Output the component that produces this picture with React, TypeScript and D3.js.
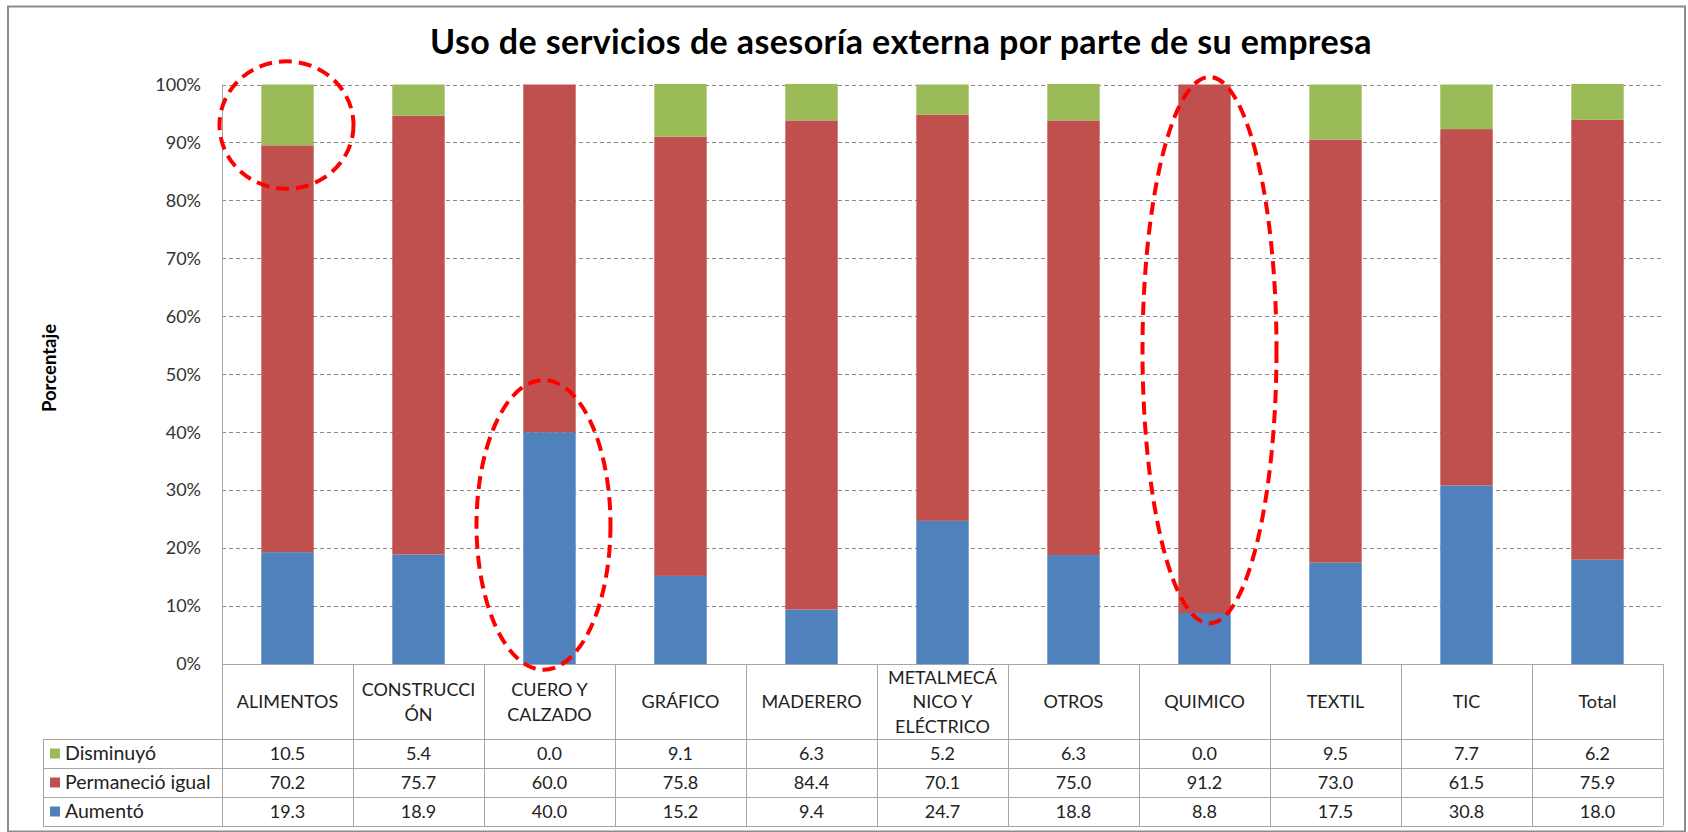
import React from 'react';
import * as d3 from 'd3';

// categories shown in the table header (line breaks as in the original)
const categories = [
  'ALIMENTOS',
  'CONSTRUCCI\nÓN',
  'CUERO Y\nCALZADO',
  'GRÁFICO',
  'MADERERO',
  'METALMECÁ\nNICO Y\nELÉCTRICO',
  'OTROS',
  'QUIMICO',
  'TEXTIL',
  'TIC',
  'Total',
];

const disminuyo = [10.5, 5.4, 0.0, 9.1, 6.3, 5.2, 6.3, 0.0, 9.5, 7.7, 6.2];
const permanecio = [70.2, 75.7, 60.0, 75.8, 84.4, 70.1, 75.0, 91.2, 73.0, 61.5, 75.9];
const aumento = [19.3, 18.9, 40.0, 15.2, 9.4, 24.7, 18.8, 8.8, 17.5, 30.8, 18.0];

const seriesNames = ['Aumentó', 'Permaneció igual', 'Disminuyó'];
const seriesColors = ['#4F81BD', '#C0504D', '#9BBB59'];
const yTicks = [0, 0.1, 0.2, 0.3, 0.4, 0.5, 0.6, 0.7, 0.8, 0.9, 1];

// red dashed highlight ellipses: category index, low / high value
const highlights = [
  { idx: 0, lo: 0.82, hi: 1.04, dx: -1 },
  { idx: 2, lo: -0.01, hi: 0.49, dx: -6 },
  { idx: 7, lo: 0.07, hi: 1.013, dx: 5 },
];

const W = 1688;
const H = 832;
const FONT = 'Lato, "Open Sans", sans-serif';

export default function App() {
  const left = 222;
  const right = 1663;
  const top = 84.5;
  const bottom = 664;
  const tableLeft = 43;
  const headerBottom = 739;
  const rowH = 29;

  const x = d3
    .scaleBand<number>()
    .domain(d3.range(categories.length))
    .range([left, right])
    .paddingInner(0.6)
    .paddingOuter(0.3);
  const step = x.step();
  const bandLeft = (i: number) => left + i * step;

  const y = d3.scaleLinear().domain([0, 1]).range([bottom, top]);

  const rows = categories.map((c, i) => ({
    i,
    a: aumento[i] / 100,
    p: permanecio[i] / 100,
    d: disminuyo[i] / 100,
  }));
  const stacked = d3.stack<any>().keys(['a', 'p', 'd'])(rows);

  // table rows listed top to bottom
  const tableRows = [
    { name: seriesNames[2], color: seriesColors[2], vals: disminuyo },
    { name: seriesNames[1], color: seriesColors[1], vals: permanecio },
    { name: seriesNames[0], color: seriesColors[0], vals: aumento },
  ];

  const fmt = d3.format('.1f');
  const pct = d3.format('.0%');
  const lineColor = '#A6A6A6';
  const tableBottom = headerBottom + rowH * 3;

  return (
    <div style={{ position: 'absolute', left: 0, top: 0 }}>
      <svg width={W} height={H} style={{ display: 'block', background: '#fff' }} fontFamily={FONT}>
        <rect x={8} y={6.5} width={1677} height={825} fill="#fff" stroke="#8C8C8C" strokeWidth={2} />

        <text
          x={901}
          y={54}
          textAnchor="middle"
          fontSize={34}
          fontWeight="bold"
          letterSpacing={0.4}
          fill="#000"
        >
          Uso de servicios de asesoría externa por parte de su empresa
        </text>

        {/* gridlines */}
        {yTicks.slice(1).map((t) => (
          <line
            key={t}
            x1={left}
            x2={right}
            y1={Math.round(y(t)) + 0.5}
            y2={Math.round(y(t)) + 0.5}
            stroke="#8A8A8A"
            strokeDasharray="4,3"
          />
        ))}

        {/* tick labels */}
        {yTicks.map((t) => (
          <text key={t} x={201} y={y(t)} dy="0.35em" textAnchor="end" fontSize={18} fill="#333">
            {pct(t)}
          </text>
        ))}

        <text
          transform={`translate(56, ${368}) rotate(-90)`}
          textAnchor="middle"
          fontSize={18.5}
          fontWeight="bold"
          fill="#000"
        >
          Porcentaje
        </text>

        {/* bars */}
        {stacked.map((s, k) => (
          <g key={k} fill={seriesColors[k]}>
            {s.map((d, i) =>
              d[1] - d[0] > 0 ? (
                <rect
                  key={i}
                  x={x(i)}
                  width={x.bandwidth()}
                  y={y(d[1])}
                  height={y(d[0]) - y(d[1])}
                />
              ) : null
            )}
          </g>
        ))}

        {/* axis + table lines */}
        <g stroke={lineColor} strokeWidth={1} fill="none">
          <line x1={left + 0.5} x2={left + 0.5} y1={top} y2={tableBottom} />
          <line x1={left} x2={right} y1={bottom + 0.5} y2={bottom + 0.5} />
          {d3.range(1, categories.length + 1).map((i) => (
            <line
              key={i}
              x1={Math.round(bandLeft(i)) + 0.5}
              x2={Math.round(bandLeft(i)) + 0.5}
              y1={bottom}
              y2={tableBottom}
            />
          ))}
          {d3.range(4).map((r) => (
            <line
              key={r}
              x1={tableLeft}
              x2={right}
              y1={headerBottom + r * rowH + 0.5}
              y2={headerBottom + r * rowH + 0.5}
            />
          ))}
          <line x1={tableLeft + 0.5} x2={tableLeft + 0.5} y1={headerBottom} y2={tableBottom} />
        </g>

        {/* header labels */}
        {categories.map((c, i) => {
          const lines = c.split('\n');
          const cx = bandLeft(i) + step / 2;
          const lh = 24.5;
          const cy = 702;
          return (
            <text key={i} x={cx} textAnchor="middle" fontSize={18} fill="#222">
              {lines.map((l, j) => (
                <tspan key={j} x={cx} y={cy + (j - (lines.length - 1) / 2) * lh} dy="0.35em">
                  {l}
                </tspan>
              ))}
            </text>
          );
        })}

        {/* table rows */}
        {tableRows.map((r, k) => {
          const cy = headerBottom + k * rowH + rowH / 2;
          return (
            <g key={k}>
              <rect x={50} y={cy - 5} width={10} height={10} fill={r.color} />
              <text x={65} y={cy} dy="0.35em" fontSize={19.5} fill="#222">
                {r.name}
              </text>
              {r.vals.map((v, i) => (
                <text
                  key={i}
                  x={bandLeft(i) + step / 2}
                  y={cy}
                  dy="0.35em"
                  textAnchor="middle"
                  fontSize={18}
                  fill="#222"
                >
                  {fmt(v)}
                </text>
              ))}
            </g>
          );
        })}

        {/* highlight ellipses */}
        {highlights.map((h, k) => (
          <ellipse
            key={k}
            cx={(x(h.idx) as number) + x.bandwidth() / 2 + h.dx}
            cy={(y(h.lo) + y(h.hi)) / 2}
            rx={67}
            ry={(y(h.lo) - y(h.hi)) / 2}
            fill="none"
            stroke="#FF0000"
            strokeWidth={4}
            strokeDasharray="13,7"
          />
        ))}
      </svg>
    </div>
  );
}
